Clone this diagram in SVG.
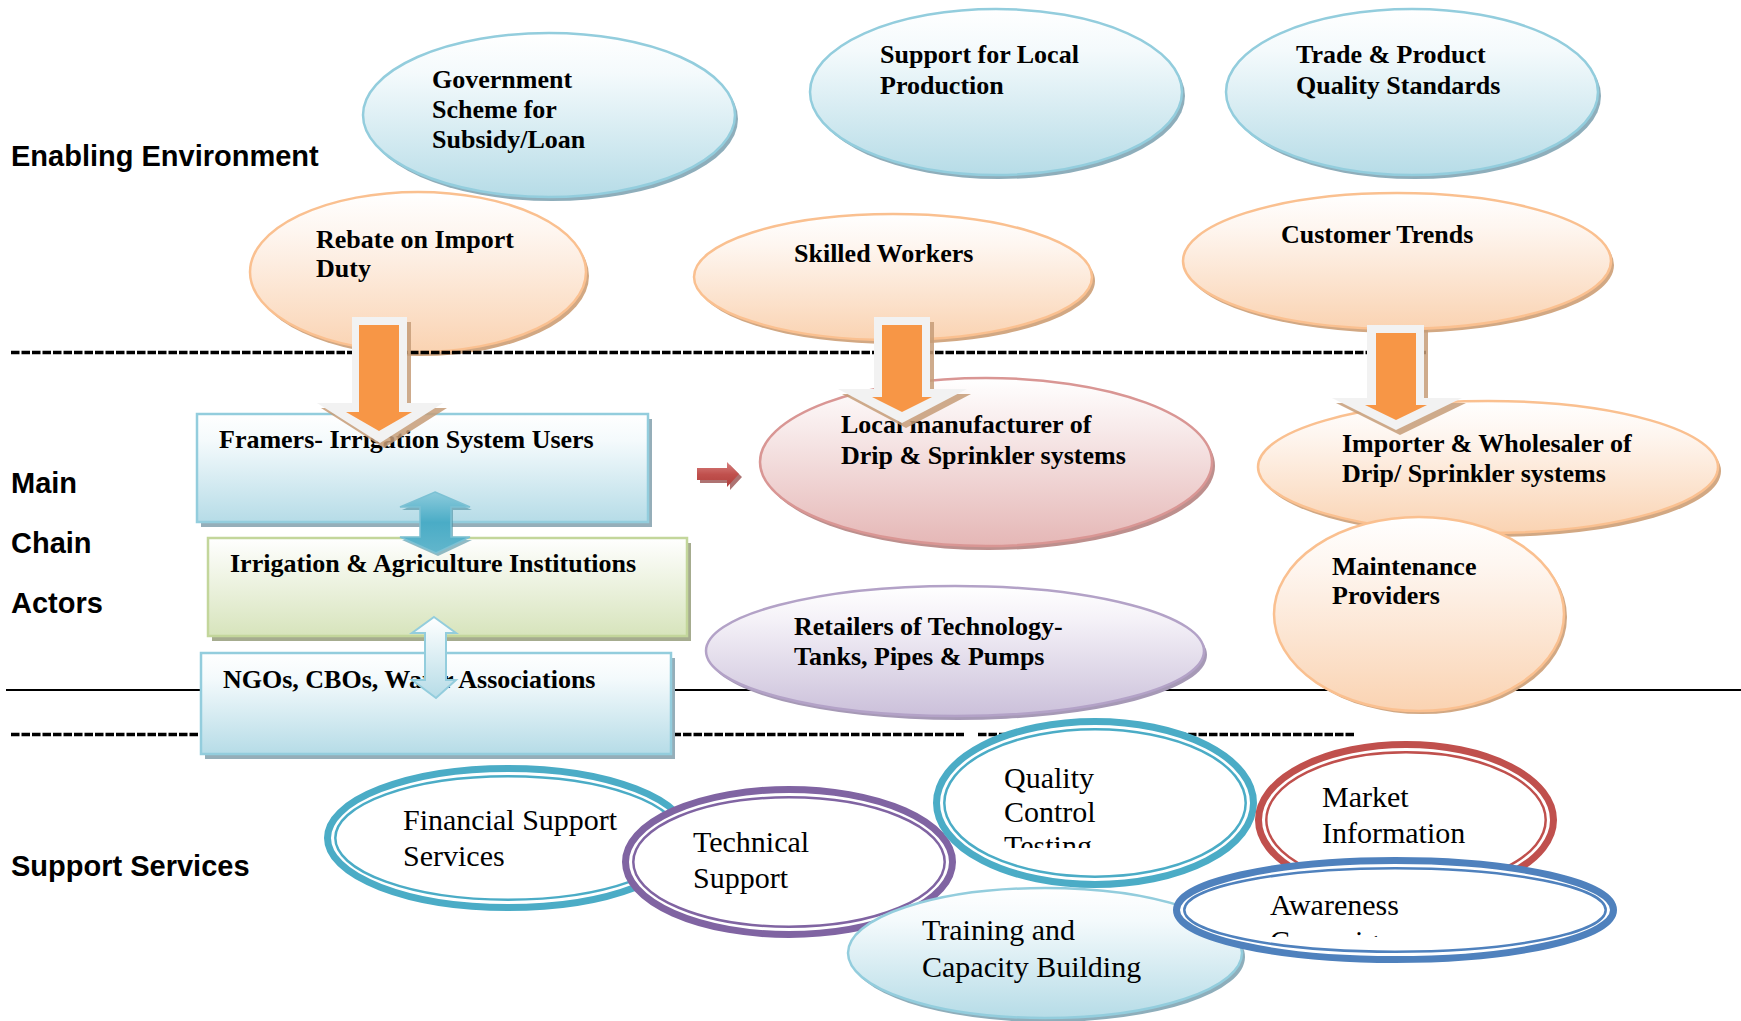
<svg xmlns="http://www.w3.org/2000/svg" width="1741" height="1021" viewBox="0 0 1741 1021">
<style>
.lbl{font-family:"Liberation Sans",Arial,sans-serif;font-weight:bold;font-size:29px;fill:#000}
.bt{font-family:"Liberation Serif","Times New Roman",serif;font-weight:bold;font-size:26px;fill:#000}
.rt{font-family:"Liberation Serif","Times New Roman",serif;font-size:30px;fill:#000}
.eBlue{fill:url(#gBlue);stroke:#93cddd;stroke-width:2.5}
.eBlueSh{fill:#8eaebb}
.ePeach{fill:url(#gPeach);stroke:#fac090;stroke-width:2.5}
.ePeachSh{fill:#d2a883}
.ePink{fill:url(#gPink);stroke:#d99694;stroke-width:2.5}
.ePinkSh{fill:#bd8f8d}
.ePurple{fill:url(#gPurple);stroke:#b3a2c7;stroke-width:2.5}
.ePurpleSh{fill:#a699b6}
.bBlue{fill:url(#gBlue);stroke:#93cddd;stroke-width:2.5}
.bGreen{fill:url(#gGreen);stroke:#c3d69b;stroke-width:2.5}
.dash{stroke:#000;stroke-width:3.5;stroke-dasharray:8.5 2;fill:none}
.solid{stroke:#000;stroke-width:2;fill:none}
.arOut{fill:#f2f2f2}
.arIn{fill:#f79646}
.arSh{fill:#c69c78;opacity:0.85}
.thick{fill:#fff;stroke-width:7}
.thin{fill:none;stroke-width:2.5}
</style>
<defs>
<linearGradient id="gBlue" x1="0" y1="0" x2="0" y2="1"><stop offset="0" stop-color="#ffffff"/><stop offset="0.25" stop-color="#f4fafc"/><stop offset="1" stop-color="#b6dce7"/></linearGradient>
<linearGradient id="gPeach" x1="0" y1="0" x2="0" y2="1"><stop offset="0" stop-color="#ffffff"/><stop offset="0.25" stop-color="#fef6f0"/><stop offset="1" stop-color="#fad3b2"/></linearGradient>
<linearGradient id="gPink" x1="0" y1="0" x2="0" y2="1"><stop offset="0" stop-color="#ffffff"/><stop offset="0.25" stop-color="#f9eeee"/><stop offset="1" stop-color="#e5b7b6"/></linearGradient>
<linearGradient id="gPurple" x1="0" y1="0" x2="0" y2="1"><stop offset="0" stop-color="#ffffff"/><stop offset="0.25" stop-color="#f5f2f8"/><stop offset="1" stop-color="#cbc0da"/></linearGradient>
<linearGradient id="gGreen" x1="0" y1="0" x2="0" y2="1"><stop offset="0" stop-color="#ffffff"/><stop offset="0.25" stop-color="#f5f8ee"/><stop offset="1" stop-color="#d7e4bc"/></linearGradient>
<linearGradient id="gDbl" x1="0" y1="0" x2="0" y2="1"><stop offset="0" stop-color="#8ccbdc"/><stop offset="0.5" stop-color="#4aacc6"/><stop offset="1" stop-color="#62b6cc"/></linearGradient>
<linearGradient id="gDbl2" x1="0" y1="0" x2="0" y2="1"><stop offset="0" stop-color="#ffffff"/><stop offset="1" stop-color="#b6dce7"/></linearGradient>
<linearGradient id="gRed" x1="0" y1="0" x2="0" y2="1"><stop offset="0" stop-color="#d8817f"/><stop offset="0.5" stop-color="#c0504d"/><stop offset="1" stop-color="#b0403d"/></linearGradient>
<clipPath id="clipQ"><rect x="0" y="0" width="1741" height="848"/></clipPath>
<clipPath id="clipA"><rect x="0" y="0" width="1741" height="937"/></clipPath>
</defs>

<g id="section-labels">
<text class="lbl" x="11" y="166">Enabling Environment</text>
<text class="lbl" x="11" y="493">Main</text>
<text class="lbl" x="11" y="553">Chain</text>
<text class="lbl" x="11" y="613">Actors</text>
<text class="lbl" x="11" y="876">Support Services</text>
</g>

<g id="node-government">
<ellipse class="eBlueSh" cx="552" cy="119" rx="186" ry="82"/>
<ellipse class="eBlue" cx="549" cy="115" rx="186" ry="82"/>
<text class="bt" x="432" y="88">Government</text>
<text class="bt" x="432" y="118">Scheme for</text>
<text class="bt" x="432" y="148">Subsidy/Loan</text>
</g>
<g id="node-support-local">
<ellipse class="eBlueSh" cx="999" cy="96" rx="186" ry="83"/>
<ellipse class="eBlue" cx="996" cy="92" rx="186" ry="83"/>
<text class="bt" x="880" y="63">Support for Local</text>
<text class="bt" x="880" y="94">Production</text>
</g>
<g id="node-trade">
<ellipse class="eBlueSh" cx="1415" cy="96" rx="186" ry="83"/>
<ellipse class="eBlue" cx="1412" cy="92" rx="186" ry="83"/>
<text class="bt" x="1296" y="63">Trade &amp; Product</text>
<text class="bt" x="1296" y="94">Quality Standards</text>
</g>
<g id="node-rebate">
<ellipse class="ePeachSh" cx="421" cy="276" rx="168" ry="80"/>
<ellipse class="ePeach" cx="418" cy="272" rx="168" ry="80"/>
<text class="bt" x="316" y="248">Rebate on Import</text>
<text class="bt" x="316" y="277">Duty</text>
</g>
<g id="node-skilled">
<ellipse class="ePeachSh" cx="896" cy="281" rx="199" ry="63"/>
<ellipse class="ePeach" cx="893" cy="277" rx="199" ry="63"/>
<text class="bt" x="794" y="262">Skilled Workers</text>
</g>
<g id="node-customer">
<ellipse class="ePeachSh" cx="1400" cy="265" rx="214" ry="68"/>
<ellipse class="ePeach" cx="1397" cy="261" rx="214" ry="68"/>
<text class="bt" x="1281" y="243">Customer Trends</text>
</g>

<g id="separators">
<line class="solid" x1="6" y1="690" x2="1741" y2="690"/>
<line class="dash" x1="11" y1="352.5" x2="1426" y2="352.5"/>
<line class="dash" x1="11" y1="734.5" x2="964" y2="734.5"/>
<line class="dash" x1="978" y1="734.5" x2="1356" y2="734.5"/>
</g>

<g id="node-local-manufacturer">
<ellipse class="ePinkSh" cx="989" cy="466" rx="226" ry="84"/>
<ellipse class="ePink" cx="986" cy="462" rx="226" ry="84"/>
<text class="bt" x="841" y="433">Local manufacturer of</text>
<text class="bt" x="841" y="464">Drip &amp; Sprinkler systems</text>
</g>
<g id="node-importer">
<ellipse class="ePeachSh" cx="1491" cy="471" rx="230" ry="66"/>
<ellipse class="ePeach" cx="1488" cy="467" rx="230" ry="66"/>
<text class="bt" x="1342" y="452">Importer &amp; Wholesaler of</text>
<text class="bt" x="1342" y="482">Drip/ Sprinkler systems</text>
</g>
<g id="node-maintenance">
<ellipse class="ePeachSh" cx="1422" cy="617" rx="145" ry="97"/>
<ellipse class="ePeach" cx="1419" cy="614" rx="145" ry="97"/>
<text class="bt" x="1332" y="575">Maintenance</text>
<text class="bt" x="1332" y="604">Providers</text>
</g>
<g id="node-retailers">
<ellipse class="ePurpleSh" cx="958" cy="655" rx="249" ry="65"/>
<ellipse class="ePurple" cx="955" cy="651" rx="249" ry="65"/>
<text class="bt" x="794" y="635">Retailers of Technology-</text>
<text class="bt" x="794" y="665">Tanks, Pipes &amp; Pumps</text>
</g>
<g id="node-farmers">
<rect x="201" y="419" width="451" height="108" fill="#95aeb9"/>
<rect class="bBlue" x="197" y="414" width="451" height="108"/>
<text class="bt" x="219" y="448">Framers- Irrigation System Users</text>
</g>
<g id="node-institutions">
<rect x="212" y="543" width="479" height="98" fill="#a6ac8f"/>
<rect class="bGreen" x="208" y="538" width="479" height="98"/>
<text class="bt" x="230" y="572">Irrigation &amp; Agriculture Institutions</text>
</g>
<g id="node-ngos">
<rect x="205" y="658" width="470" height="101" fill="#95aeb9"/>
<rect class="bBlue" x="201" y="653" width="470" height="101"/>
<text class="bt" x="223" y="688">NGOs, CBOs, Water Associations</text>
</g>

<g id="connectors">
<polygon class="arSh" points="355,322 411,322 411,408 447,408 384,448 321,408 355,408"/>
<polygon class="arOut" points="352,317 407,317 407,403 443,403 380,443 317,403 352,403"/>
<polygon class="arIn" points="359,325 399,325 399,412 412,412 379,431 346,412 359,412"/>

<polygon class="arSh" points="877,322 934,322 934,394 971,394 906,428 842,394 877,394"/>
<polygon class="arOut" points="874,317 930,317 930,389 967,389 902,423 838,389 874,389"/>
<polygon class="arIn" points="882,325 922,325 922,397 932,397 902,412 872,397 882,397"/>

<polygon class="arSh" points="1370,330 1428,330 1428,403 1466,403 1400,435 1336,403 1370,403"/>
<polygon class="arOut" points="1367,325 1424,325 1424,398 1462,398 1396,430 1332,398 1367,398"/>
<polygon class="arIn" points="1376,333 1416,333 1416,405 1427,405 1396,420 1365,405 1376,405"/>

<polygon points="437,495 472,510 453,510 453,540 472,540 438,556 402,540 422,540 422,510 402,510" fill="#4a8ea0" opacity="0.6"/>
<polygon points="435,492 470,507 451,507 451,537 470,537 436,553 400,537 420,537 420,507 400,507" fill="url(#gDbl)" stroke="#7cc1d4" stroke-width="1.5"/>

<polygon points="434,617 456,633 446,633 446,680 456,680 436,698 412,680 425,680 425,633 412,633" fill="url(#gDbl2)" stroke="#93cddd" stroke-width="2"/>

<polygon points="700,471 730,471 730,465 742,477 730,490 730,483 700,483" fill="#8c3836" opacity="0.7"/>
<polygon points="697,468 727,468 727,462 739,474 727,487 727,480 697,480" fill="url(#gRed)"/>
</g>

<g id="node-financial">
<ellipse class="thick" cx="508" cy="838" rx="180.5" ry="69.5" stroke="#4bacc6"/>
<ellipse class="thin" cx="508" cy="838" rx="172.7" ry="61.7" stroke="#4bacc6"/>
<text class="rt" x="403" y="830">Financial Support</text>
<text class="rt" x="403" y="866">Services</text>
</g>
<g id="node-technical">
<ellipse class="thick" cx="789" cy="862" rx="163.5" ry="72.5" stroke="#8064a2"/>
<ellipse class="thin" cx="789" cy="862" rx="155.7" ry="64.7" stroke="#8064a2"/>
<text class="rt" x="693" y="852">Technical</text>
<text class="rt" x="693" y="888">Support</text>
</g>
<g id="node-quality">
<ellipse class="thick" cx="1095" cy="803" rx="158.5" ry="81.5" stroke="#4bacc6"/>
<ellipse class="thin" cx="1095" cy="803" rx="150.7" ry="73.7" stroke="#4bacc6"/>
<g clip-path="url(#clipQ)">
<text class="rt" x="1004" y="788">Quality</text>
<text class="rt" x="1004" y="822">Control</text>
<text class="rt" x="1004" y="856">Testing</text>
</g>
</g>
<g id="node-training">
<ellipse class="eBlueSh" cx="1048" cy="957" rx="197" ry="65"/>
<ellipse class="eBlue" cx="1045" cy="953" rx="197" ry="65"/>
<text class="rt" x="922" y="940">Training and</text>
<text class="rt" x="922" y="977">Capacity Building</text>
</g>
<g id="node-market">
<ellipse class="thick" cx="1406" cy="820" rx="147.5" ry="75.5" stroke="#c0504d"/>
<ellipse class="thin" cx="1406" cy="820" rx="139.7" ry="67.7" stroke="#c0504d"/>
<text class="rt" x="1322" y="807">Market</text>
<text class="rt" x="1322" y="843">Information</text>
</g>
<g id="node-awareness">
<ellipse class="thick" cx="1395" cy="910" rx="218.5" ry="49.5" stroke="#4f81bd"/>
<ellipse class="thin" cx="1395" cy="910" rx="210.7" ry="41.7" stroke="#4f81bd"/>
<g clip-path="url(#clipA)">
<text class="rt" x="1270" y="915">Awareness</text>
<text class="rt" x="1270" y="951">Campaign</text>
</g>
</g>
</svg>
